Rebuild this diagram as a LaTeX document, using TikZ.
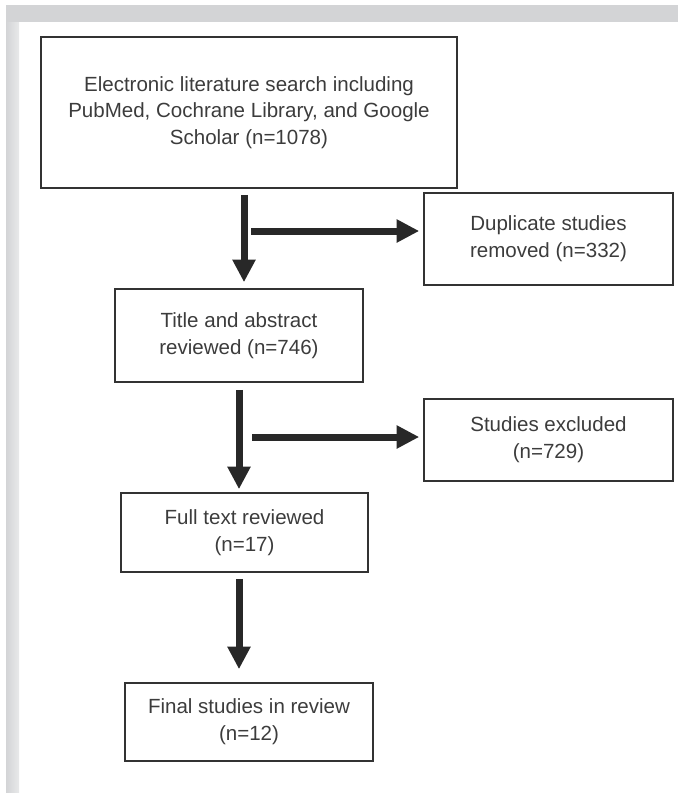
\documentclass[tikz,border=0pt]{standalone}
\usepackage{fontspec}
\setmainfont{Liberation Sans}
\usetikzlibrary{arrows.meta}

\begin{document}
\begin{tikzpicture}[x=0.75pt,y=0.75pt,yscale=-1,xscale=1,
  box/.style={draw={rgb, 255:red, 51; green, 51; blue, 51}, line width=1.2pt, inner sep=0pt, align=center, text={rgb, 255:red, 60; green, 60; blue, 60}, font=\fontsize{15.4}{20}\selectfont},
  flow/.style={draw={rgb, 255:red, 40; green, 40; blue, 40}, line width=5.25pt, -{Triangle[width=16.5pt,length=17pt]}}
]
\useasboundingbox (0,0) rectangle (678,793);

%Shape: Frame top
\fill [color={rgb, 255:red, 211; green, 212; blue, 214 }] (6,5) rectangle (678,22) ;
%Shape: Frame left
\shade [left color={rgb, 255:red, 211; green, 212; blue, 214 }, right color={rgb, 255:red, 232; green, 233; blue, 234 }] (6,22) rectangle (19,793) ;

% Text Node
\node [box, minimum width=312pt, minimum height=113.25pt] (search) at (249,112.5) {Electronic literature search including\\PubMed, Cochrane Library, and Google\\Scholar (n=1078)};
% Text Node
\node [box, minimum width=186.75pt, minimum height=69pt] (dup) at (548.5,239) {Duplicate studies\\removed (n=332)};
% Text Node
\node [box, minimum width=186pt, minimum height=69.75pt] (title) at (239,335.5) {Title and abstract\\reviewed (n=746)};
% Text Node
\node [box, minimum width=186.75pt, minimum height=61.5pt] (excl) at (548.5,440) {Studies excluded\\(n=729)};
% Text Node
\node [box, minimum width=185.25pt, minimum height=59.25pt] (full) at (244.5,532.5) {Full text reviewed\\(n=17)};
% Text Node
\node [box, minimum width=186pt, minimum height=58.5pt] (final) at (249,722) {Final studies in review\\(n=12)};

\coordinate (split1) at (251,231);
\coordinate (split2) at (252,437);

%Straight Lines
\draw [flow] ([xshift=-3.75pt,yshift=4.5pt]search.south) -- ([xshift=3.75pt,yshift=-4.5pt]title.north) ;
\draw [flow, shorten >=3pt] (split1) -- (split1 -| dup.west) ;
%Straight Lines
\draw [flow] ([yshift=5.25pt]title.south) -- ([yshift=-2.25pt]title.south |- full.north) ;
\draw [flow, shorten >=3pt] (split2) -- (split2 -| excl.west) ;
%Straight Lines
\draw [flow] ([xshift=-4.125pt,yshift=4.5pt]full.south) -- ([xshift=-7.5pt,yshift=-9.75pt]final.north) ;

\end{tikzpicture}
\end{document}
